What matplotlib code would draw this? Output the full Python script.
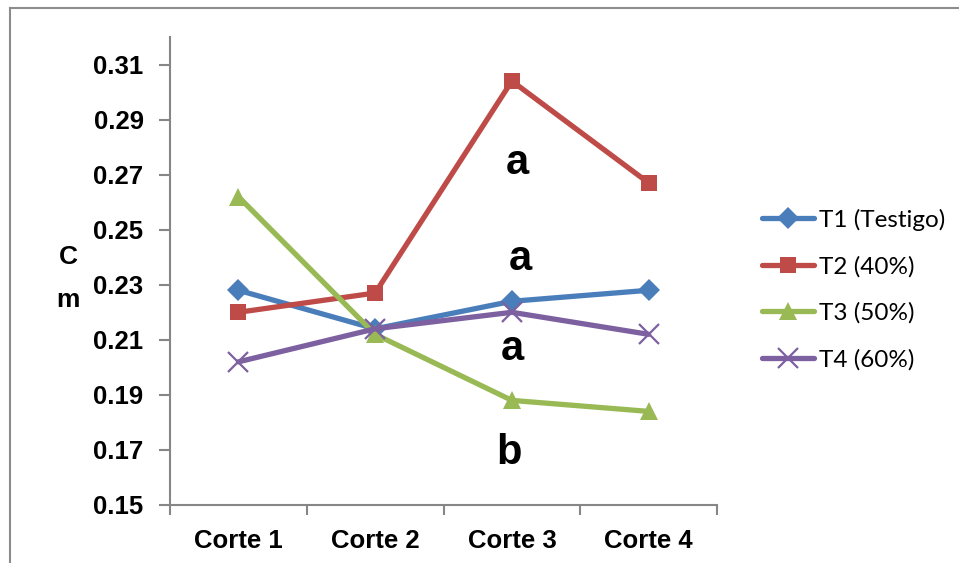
import matplotlib
matplotlib.use("Agg")
import matplotlib.pyplot as plt
from matplotlib.lines import Line2D

# Sampling cuts and treatment means (cm)
cortes = ["Corte 1", "Corte 2", "Corte 3", "Corte 4"]
t1_testigo = [0.228, 0.214, 0.224, 0.228]
t2_40 = [0.220, 0.227, 0.304, 0.267]
t3_50 = [0.262, 0.212, 0.188, 0.184]
t4_60 = [0.202, 0.214, 0.220, 0.212]
series_names = ["T1 (Testigo)", "T2 (40%)", "T3 (50%)", "T4 (60%)"]

# Significance letters for Corte 3 (x, y in data units)
letters = ["a", "a", "a", "b"]
letter_x = [2.04, 2.06, 2.00, 1.98]
letter_y = [0.2741, 0.2393, 0.2066, 0.1689]

yticks = [0.15, 0.17, 0.19, 0.21, 0.23, 0.25, 0.27, 0.29, 0.31]

colors = ["#4A7EBB", "#BE4B48", "#98B954", "#7D60A0"]
markers = ["D", "s", "^", "x"]
msizes = [11, 12, 13, 14]

W, H = 959, 563
fig = plt.figure(figsize=(W / 100, H / 100), dpi=100)
ax = fig.add_axes([170 / W, 1 - 505 / H, (717 - 170) / W, (505 - 37) / H])

x = list(range(len(cortes)))
handles = []
for vals, name, c, m, ms in zip([t1_testigo, t2_40, t3_50, t4_60], series_names,
                                colors, markers, msizes):
    kw = dict(color=c, lw=3.8, marker=m, markersize=ms, solid_capstyle="round")
    if m == "x":
        kw.update(markeredgewidth=1.6)
    else:
        kw.update(markeredgewidth=0)
    h, = ax.plot(x, vals, label=name, **kw)
    handles.append(h)

ax.set_xlim(-0.5, 3.5)
ax.set_ylim(0.15, 0.32)
ax.set_yticks(yticks)
ax.set_yticklabels([f"{v:.2f}" for v in yticks])
ax.set_xticks(x)
ax.set_xticklabels(cortes)
ax.set_xticks([-0.5, 0.5, 1.5, 2.5, 3.5], minor=True)

for s in ["top", "right"]:
    ax.spines[s].set_visible(False)
for s in ["left", "bottom"]:
    ax.spines[s].set_color("#868686")
    ax.spines[s].set_linewidth(1.5)

ax.tick_params(axis="y", direction="out", length=8, width=1.5, color="#868686",
               pad=11, labelsize=18.5)
ax.tick_params(axis="x", which="major", length=0, pad=17, labelsize=18.5)
ax.tick_params(axis="x", which="minor", direction="out", length=7, width=1.5,
               color="#868686")
for lab in ax.get_xticklabels() + ax.get_yticklabels():
    lab.set_fontweight("bold")
    lab.set_fontfamily("Liberation Sans")

for t, lx, ly in zip(letters, letter_x, letter_y):
    ax.text(lx, ly, t, ha="center", va="center", fontsize=30, fontweight="bold",
            family="Liberation Sans")

fig.text(68 / W, 1 - 257 / H, "C", ha="center", va="center", fontsize=19,
         fontweight="bold", family="Liberation Sans")
fig.text(68 / W, 1 - 300 / H, "m", ha="center", va="center", fontsize=19,
         fontweight="bold", family="Liberation Sans")

leg = fig.legend(handles=handles, loc="upper left",
                 bbox_to_anchor=(752 / W, 1 - 199 / H), frameon=False,
                 prop={"family": "Lato", "size": 17.5}, handlelength=2.15,
                 handletextpad=0.2, labelspacing=1.03, borderaxespad=0)

# Chart area frame (top and left edges)
fig.add_artist(Line2D([10 / W, 10 / W], [0, 1 - 8 / H], transform=fig.transFigure,
                      color="#8C8C8C", lw=1.5))
fig.add_artist(Line2D([10 / W, 1], [1 - 8 / H, 1 - 8 / H], transform=fig.transFigure,
                      color="#8C8C8C", lw=1.5))

fig.savefig("out.png", dpi=100)
